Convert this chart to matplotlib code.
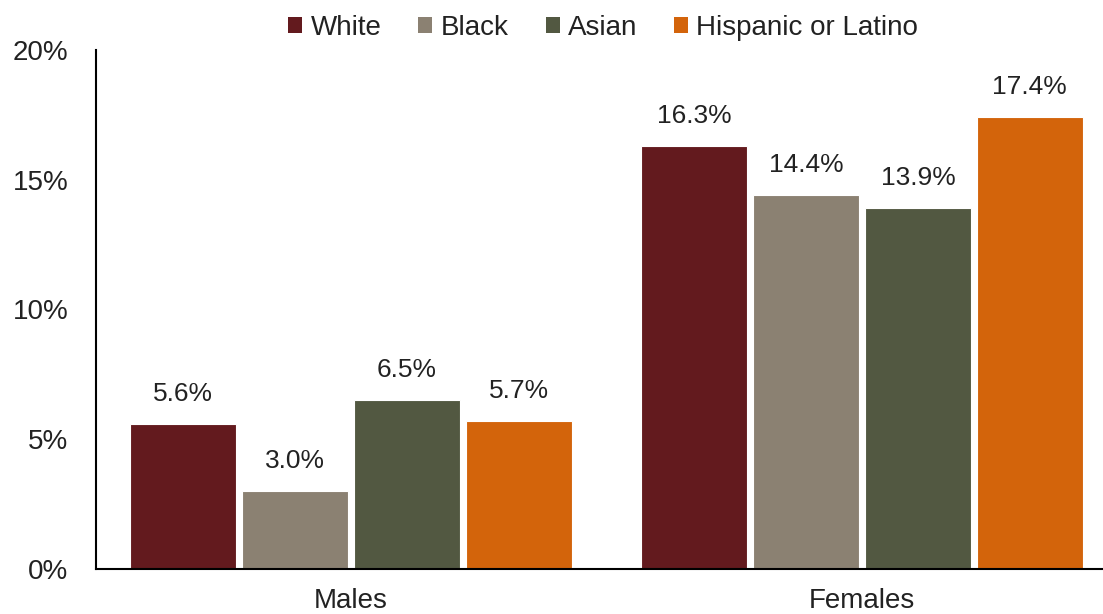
import numpy as np
import matplotlib
matplotlib.use("Agg")
import matplotlib.pyplot as plt
from matplotlib.patches import Patch

plt.rcParams['font.family'] = ['Liberation Sans', 'DejaVu Sans']

groups = ["Males", "Females"]
races = ["White", "Black", "Asian", "Hispanic or Latino"]
colors = ["#631a1e", "#8b8172", "#525841", "#d3640b"]
values = {
    "White": [5.6, 16.3],
    "Black": [3.0, 14.4],
    "Asian": [6.5, 13.9],
    "Hispanic or Latino": [5.7, 17.4],
}

fig = plt.figure(figsize=(11.03, 6.14), dpi=100)
ax = fig.add_axes([0.087, 0.0733, 0.913, 0.8453])

x = np.arange(len(groups))
step = 0.219
width = 0.207
for i, (race, col) in enumerate(zip(races, colors)):
    pos = x + (i - 1.5) * step
    bars = ax.bar(pos, values[race], width, color=col, edgecolor="white", linewidth=0.8)
    for b, v in zip(bars, values[race]):
        ax.annotate(f"{v:.1f}%", (b.get_x() + b.get_width() / 2, v),
                    xytext=(0, 13), textcoords="offset points",
                    ha="center", va="bottom", fontsize=19, color="#222222")

ax.set_xlim(-0.499, 1.4716)
ax.set_ylim(0, 20)
ax.set_yticks([0, 5, 10, 15, 20])
ax.set_yticklabels(["0%", "5%", "10%", "15%", "20%"])
ax.set_xticks(x)
ax.set_xticklabels(groups)
ax.tick_params(axis="both", length=0, labelsize=20, colors="#222222")
ax.tick_params(axis="y", pad=20)
ax.tick_params(axis="x", pad=14)
for s in ["top", "right"]:
    ax.spines[s].set_visible(False)
for s in ["left", "bottom"]:
    ax.spines[s].set_linewidth(1.5)
    ax.spines[s].set_color("black")

handles = [Patch(facecolor=c, edgecolor="none") for c in colors]
fig.legend(handles, races, loc="center", bbox_to_anchor=(0.547, 0.955), ncol=4,
           frameon=False, fontsize=20, handlelength=0.5, handleheight=0.5,
           handletextpad=0.3, columnspacing=1.33, labelcolor="#222222")

fig.savefig("out.png", dpi=100)
